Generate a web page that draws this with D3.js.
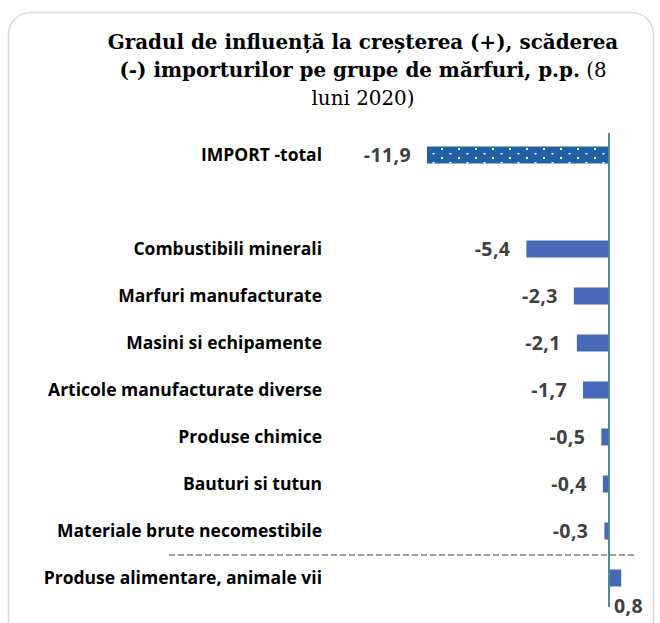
<!DOCTYPE html>
<html>
<head>
<meta charset="utf-8">
<script src="https://cdn.jsdelivr.net/npm/d3@7"></script>
<style>
  html, body { margin: 0; padding: 0; background: #fff; }
  svg { display: block; }
</style>
</head>
<body>
<svg id="chart" width="660" height="623"></svg>
<script>
// Contribution of each commodity group to the change in imports, p.p.
const categories = [
  "IMPORT -total",
  "",
  "Combustibili minerali",
  "Marfuri manufacturate",
  "Masini si echipamente",
  "Articole manufacturate diverse",
  "Produse chimice ",
  "Bauturi si tutun",
  "Materiale brute necomestibile",
  "Produse alimentare, animale vii"
];
const values = [-11.9, null, -5.4, -2.3, -2.1, -1.7, -0.5, -0.4, -0.3, 0.8];
const valueLabels = ["-11,9", "", "-5,4", "-2,3", "-2,1", "-1,7", "-0,5", "-0,4", "-0,3", "0,8"];

const svg = d3.select("#chart");

// Rounded frame around the chart
svg.append("rect")
  .attr("x", 8.5).attr("y", 12.5)
  .attr("width", 645).attr("height", 640)
  .attr("rx", 22).attr("ry", 22)
  .attr("fill", "#fff")
  .attr("stroke", "#d9d9d9")
  .attr("stroke-width", 1.5);

// Title
const title = svg.append("text")
  .attr("text-anchor", "middle")
  .attr("font-family", "'DejaVu Serif', 'Liberation Serif', serif")
  .attr("font-size", 19.9)
  .attr("fill", "#000");
title.append("tspan").attr("x", 363).attr("y", 49)
  .attr("font-weight", "bold")
  .text("Gradul de influență la creșterea (+), scăderea");
const l2 = title.append("tspan").attr("x", 363).attr("y", 77);
l2.append("tspan").attr("font-weight", "bold").text("(-) importurilor pe grupe de mărfuri, p.p.");
l2.append("tspan").attr("font-weight", "normal").text(" (8");
title.append("tspan").attr("x", 363).attr("y", 105)
  .attr("font-weight", "normal")
  .text("luni 2020)");

// Scales
const x = d3.scaleLinear().domain([-11.9, 0]).range([427, 609]);
const y = d3.scaleBand().domain(d3.range(categories.length))
  .range([131.5, 601.5]).paddingInner(0.64).paddingOuter(0.32);

// Dotted fill for the total bar
const defs = svg.append("defs");
const pat = defs.append("pattern")
  .attr("id", "dots")
  .attr("patternUnits", "userSpaceOnUse")
  .attr("x", 427).attr("y", 147)
  .attr("width", 17).attr("height", 9);
pat.append("rect").attr("width", 17).attr("height", 9).attr("fill", "#2260a6");
pat.append("rect").attr("x", 14).attr("y", 1).attr("width", 2).attr("height", 2).attr("fill", "#fff");
pat.append("rect").attr("x", 5.5).attr("y", 6).attr("width", 2).attr("height", 1.5).attr("fill", "#fff");

const rows = categories.map((c, i) => ({ c, v: values[i], lab: valueLabels[i], i }));

// Category labels
svg.append("g").selectAll("text")
  .data(rows.filter(d => d.c !== ""))
  .join("text")
  .attr("x", 322)
  .attr("y", d => y(d.i) + y.bandwidth() / 2)
  .attr("dy", "0.35em")
  .attr("text-anchor", "end")
  .attr("font-family", "'Open Sans', Lato, sans-serif")
  .attr("font-weight", "bold")
  .attr("font-size", 17.5)
  .attr("fill", "#000")
  .text(d => d.c);

// Bars
const barH = 17;
svg.append("g").selectAll("rect")
  .data(rows.filter(d => d.v !== null))
  .join("rect")
  .attr("x", d => Math.min(x(d.v), x(0)))
  .attr("y", d => y(d.i) + y.bandwidth() / 2 - barH / 2)
  .attr("width", d => Math.abs(x(d.v) - x(0)))
  .attr("height", barH)
  .attr("fill", d => d.i === 0 ? "url(#dots)" : "#4668b8");

// Separator before the only positive contribution
svg.append("line")
  .attr("x1", 169).attr("x2", 637)
  .attr("y1", 555).attr("y2", 555)
  .attr("stroke", "#7f7f7f")
  .attr("stroke-width", 1.3)
  .attr("stroke-dasharray", "6,3");

// Zero axis
svg.append("line")
  .attr("x1", x(0)).attr("x2", x(0))
  .attr("y1", 133).attr("y2", 607)
  .attr("stroke", "#4d8d93")
  .attr("stroke-width", 2);

// Value labels
svg.append("g").selectAll("text")
  .data(rows.filter(d => d.v !== null))
  .join("text")
  .attr("x", d => d.v < 0 ? x(d.v) - 16 : x(0) + 5)
  .attr("y", d => d.v < 0 ? y(d.i) + y.bandwidth() / 2 : y(d.i) + y.bandwidth() / 2 + 28)
  .attr("dy", "0.35em")
  .attr("text-anchor", d => d.v < 0 ? "end" : "start")
  .attr("font-family", "'Open Sans', Lato, sans-serif")
  .attr("font-weight", "bold")
  .attr("font-size", 19.5)
  .attr("letter-spacing", 0.4)
  .attr("fill", "#404040")
  .text(d => d.lab);
</script>
</body>
</html>
